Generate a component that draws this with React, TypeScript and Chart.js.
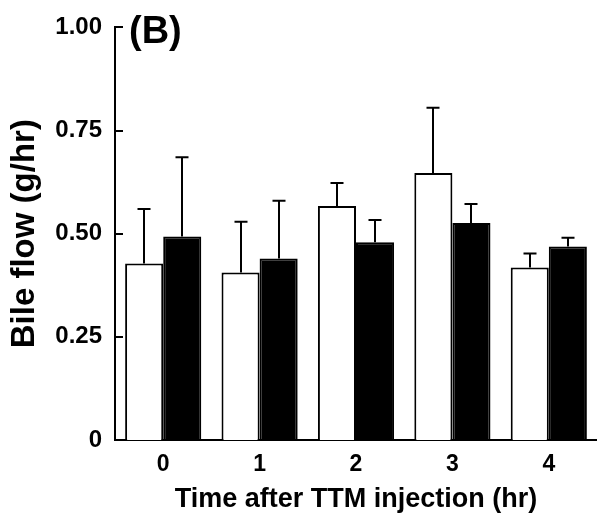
import React, { useEffect, useRef } from "react";
import { Chart, registerables } from "chart.js";

Chart.register(...registerables);

const categories = ["0", "1", "2", "3", "4"];
const controlMeans = [0.428, 0.406, 0.567, 0.647, 0.418];
const controlErrors = [0.132, 0.123, 0.056, 0.158, 0.034];
const ttmMeans = [0.493, 0.44, 0.479, 0.526, 0.469];
const ttmErrors = [0.192, 0.14, 0.054, 0.046, 0.021];
const yTickValues = [0, 0.25, 0.5, 0.75, 1.0];
const panelLabel = "(B)";
const yTitle = "Bile flow (g/hr)";
const xTitle = "Time after TTM injection (hr)";

const FONT = "'Liberation Sans', Arial, Helvetica, sans-serif";

const errorBarPlugin = {
  id: "errorBars",
  afterDatasetsDraw(chart: any) {
    const ctx = chart.ctx;
    const yScale = chart.scales.y;
    ctx.save();
    ctx.strokeStyle = "#000";
    ctx.lineWidth = 2;
    chart.data.datasets.forEach((ds: any, di: number) => {
      const meta = chart.getDatasetMeta(di);
      meta.data.forEach((bar: any, i: number) => {
        const top = yScale.getPixelForValue(ds.data[i] + ds.errors[i]);
        const x = Math.round(bar.x);
        ctx.beginPath();
        ctx.moveTo(x, bar.y);
        ctx.lineTo(x, top);
        ctx.moveTo(x - 6.5, top);
        ctx.lineTo(x + 6.5, top);
        ctx.stroke();
      });
    });
    ctx.restore();
  },
};

const decorPlugin = {
  id: "decor",
  afterDraw(chart: any) {
    const ctx = chart.ctx;
    const yScale = chart.scales.y;
    const left = chart.chartArea.left;
    ctx.save();
    ctx.strokeStyle = "#000";
    ctx.lineWidth = 2;
    yTickValues.forEach((v) => {
      const py = Math.round(yScale.getPixelForValue(v));
      ctx.beginPath();
      ctx.moveTo(left - 1, py);
      ctx.lineTo(left + 8, py);
      ctx.stroke();
    });
    ctx.fillStyle = "#000";
    ctx.font = `bold 38px ${FONT}`;
    ctx.textBaseline = "alphabetic";
    ctx.textAlign = "left";
    ctx.fillText(panelLabel, left + 14, 43);
    ctx.restore();
  },
};

export default function App() {
  const canvasRef = useRef<HTMLCanvasElement | null>(null);

  useEffect(() => {
    document.body.style.margin = "0";
    const canvas = canvasRef.current;
    if (!canvas) return;
    Chart.defaults.color = "#000";
    const chart = new Chart(canvas, {
      type: "bar",
      data: {
        labels: categories,
        datasets: [
          {
            label: "Control",
            data: controlMeans,
            errors: controlErrors,
            backgroundColor: "#fff",
            borderColor: "#000",
            borderWidth: 2,
          } as any,
          {
            label: "TTM",
            data: ttmMeans,
            errors: ttmErrors,
            backgroundColor: "#000",
            borderColor: "#000",
            borderWidth: 2,
          } as any,
        ],
      },
      options: {
        responsive: false,
        animation: false,
        devicePixelRatio: 1,
        layout: { padding: { top: 24, right: 0, bottom: 0, left: 0 } },
        datasets: {
          bar: { categoryPercentage: 0.79, barPercentage: 1.0 },
        },
        plugins: {
          legend: { display: false },
          tooltip: { enabled: false },
        },
        scales: {
          x: {
            grid: { display: false, drawTicks: false },
            border: { display: true, color: "#000", width: 2 },
            ticks: {
              color: "#000",
              padding: 11,
              font: { family: FONT, size: 23, weight: "bold" },
            },
            title: {
              display: true,
              text: xTitle,
              color: "#000",
              font: { family: FONT, size: 27, weight: "bold" },
              padding: { top: 0, bottom: 7 },
            },
            afterFit(scale: any) {
              scale.height = 83;
            },
          },
          y: {
            min: 0,
            max: 1,
            grid: { display: false, drawTicks: false },
            border: { display: true, color: "#000", width: 2 },
            afterBuildTicks(scale: any) {
              scale.ticks = yTickValues.map((v) => ({ value: v }));
            },
            ticks: {
              color: "#000",
              padding: 13,
              font: { family: FONT, size: 24, weight: "bold" },
              callback: (v: any) => (Number(v) === 0 ? "0" : Number(v).toFixed(2)),
            },
            title: {
              display: true,
              text: yTitle,
              color: "#000",
              font: { family: FONT, size: 33, weight: "bold" },
              padding: { top: 5, bottom: 0 },
            },
            afterFit(scale: any) {
              scale.width = 115;
            },
          },
        },
      } as any,
      plugins: [errorBarPlugin, decorPlugin],
    });
    return () => chart.destroy();
  }, []);

  return (
    <div style={{ width: 597, height: 523 }}>
      <canvas ref={canvasRef} width={597} height={523} style={{ display: "block" }} />
    </div>
  );
}
